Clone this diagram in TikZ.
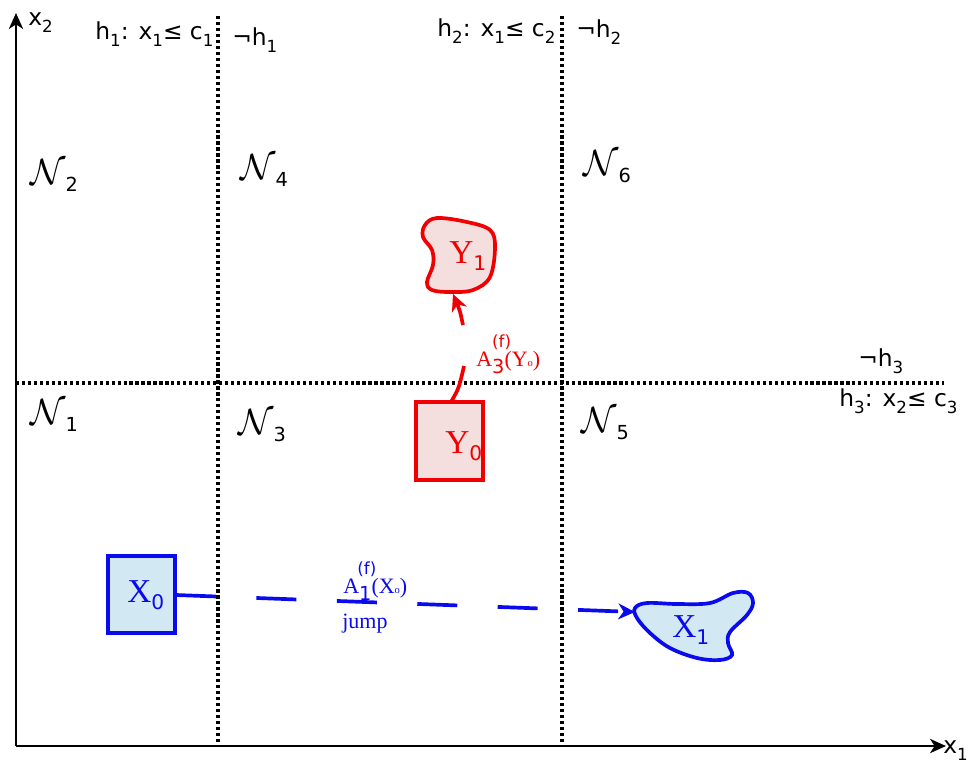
\documentclass[tikz,border=0pt]{standalone}
\usepackage{fontspec}
\setmainfont{Liberation Serif}
\setsansfont{DejaVu Sans}
\newfontfamily\dvs{DejaVu Sans}
\usetikzlibrary{arrows.meta}
\definecolor{redc}{HTML}{F00000}
\definecolor{redf}{HTML}{F5DEDE}
\definecolor{bluec}{HTML}{0A0AEE}
\definecolor{bluef}{HTML}{D2E8F2}
% subscript for the sans labels
\newcommand\lsub[1]{\raisebox{-4.5pt}{\dvs\fontsize{9.5}{12}\selectfont #1}}
% subscript for the region names
\newcommand\nsub[1]{\raisebox{-4.5pt}{\dvs\fontsize{11}{12}\selectfont #1}}
% subscript for the sets
\newcommand\ssub[1]{\raisebox{-4pt}{\dvs\fontsize{11.5}{13}\selectfont #1}}
\tikzset{
  axis/.style={line width=1.6pt,-{Stealth[length=9pt,width=8pt,inset=2.5pt]}},
  split/.style={line width=2pt,dash pattern=on 1.8pt off 1.6pt},
  lbl/.style={font=\dvs\fontsize{13.3}{16}\selectfont,inner sep=0pt,anchor=base west},
  nlbl/.style={font=\fontsize{20}{22}\selectfont,inner sep=0pt,anchor=base west},
  redbox/.style={draw=redc,fill=redf,line width=2.1pt},
  bluebox/.style={draw=bluec,fill=bluef,line width=2.1pt},
  redtxt/.style={text=redc,font=\fontsize{19}{22}\selectfont,inner sep=0pt,anchor=base west},
  bluetxt/.style={text=bluec,font=\fontsize{19}{22}\selectfont,inner sep=0pt,anchor=base west},
  tip/.style={-{Stealth[length=9.5pt,width=9pt,inset=3pt]}},
  alabel/.style={font=\fontsize{12.5}{14}\selectfont,inner sep=0pt,anchor=base west},
}
\begin{document}
\begin{tikzpicture}[x=0.02cm,y=-0.02cm]
\useasboundingbox (0,0) rectangle (971,768);
% axes
\coordinate (o) at (16,746);
\coordinate (xe) at (946,746);
\coordinate (ye) at (16,13);
\draw[axis] (o) -- (xe);
\draw[axis] (o) -- (ye);
\node[lbl] (lx1) at (943,753) {x\lsub{1}};
\node[lbl] (lx2) at (28,25) {x\lsub{2}};
% split lines
\coordinate (v1t) at (218,16); \coordinate (v1b) at (218,746);
\coordinate (v2t) at (562,16); \coordinate (v2b) at (562,746);
\coordinate (hl) at (16,383); \coordinate (hr) at (944,383);
\draw[split] (v1t) -- (v1b);
\draw[split] (v2t) -- (v2b);
\draw[split] (hl) -- (hr);
% split labels
\node[lbl] (h1) at (95,39) {h\lsub{1}: x\lsub{1}≤ c\lsub{1}};
\node[lbl] (nh1) at (232,45) {¬h\lsub{1}};
\node[lbl] (h2) at (437,36) {h\lsub{2}: x\lsub{1}≤ c\lsub{2}};
\node[lbl] (nh2) at (576,37) {¬h\lsub{2}};
\node[lbl] (nh3) at (858,366) {¬h\lsub{3}};
\node[lbl] (h3) at (839,406) {h\lsub{3}: x\lsub{2}≤ c\lsub{3}};
% regions
\node[nlbl] (N2) at (30,184) {$\mathcal{N}$\nsub{2}};
\node[nlbl] (N4) at (240,179) {$\mathcal{N}$\nsub{4}};
\node[nlbl] (N6) at (583,175) {$\mathcal{N}$\nsub{6}};
\node[nlbl] (N1) at (30,424) {$\mathcal{N}$\nsub{1}};
\node[nlbl] (N3) at (238,434) {$\mathcal{N}$\nsub{3}};
\node[nlbl] (N5) at (581,432) {$\mathcal{N}$\nsub{5}};
% Y0 box
\node[redbox,inner sep=0pt,minimum width=1.34cm,minimum height=1.56cm] (Y0) at (449.5,441) {};
\node[redtxt] (Y0t) at (445,453) {Y\ssub{0}};
% Y1 blob
\draw[redbox] plot[smooth cycle,tension=0.6] coordinates {(425,225) (437,218) (467,222) (490,230) (495,247) (490,277) (473,290) (450,292) (432,290) (427,282) (433,265) (432,250) (423,237)};
\node[redtxt] (Y1t) at (449,263) {Y\ssub{1}};
% red arrow
\coordinate (ra) at (464,366);
\coordinate (rb) at (463,325);
\coordinate (rtip) at (453,294);
\coordinate (rs) at (451,402);
\draw[redc,line width=2.1pt] (rs) .. controls (459,388) .. (ra);
\draw[redc,line width=2.1pt,tip] (rb) .. controls (460,311) .. (rtip);
\node[text=redc,alabel] (A3) at (476,366) {A\makebox[0pt][l]{\raisebox{10.5pt}{\dvs\fontsize{9.5}{10}\selectfont (f)}}\raisebox{-4pt}{\dvs\fontsize{11}{12}\selectfont 3}(Y\raisebox{-0.5pt}{\fontsize{6}{7}\selectfont o})};
% X0 box
\node[bluebox,inner sep=0pt,minimum width=1.34cm,minimum height=1.54cm] (X0) at (141.5,594.5) {};
\node[bluetxt] (X0t) at (127,602) {X\ssub{0}};
% X1 blob
\draw[bluebox] plot[smooth cycle,tension=0.6] coordinates {(635,608) (647,603) (677,604) (710,603) (733,593) (748,593) (753,603) (747,615) (730,632) (728,643) (732,655) (720,660) (697,658) (670,648) (650,633) (637,618)};
\node[bluetxt] (X1t) at (672,637) {X\ssub{1}};
\coordinate (bs) at (176,595);
\coordinate (btip) at (635,612);
\draw[bluec,line width=2.1pt,dash pattern=on 0.8cm off 0.81cm,tip] (bs) -- (btip);
\node[text=bluec,alabel] (A1) at (343,593) {A\makebox[0pt][l]{\hspace{-1pt}\raisebox{10.5pt}{\dvs\fontsize{9.5}{10}\selectfont (f)}}\raisebox{-4pt}{\dvs\fontsize{11}{12}\selectfont 1}(X\raisebox{-0.5pt}{\fontsize{6}{7}\selectfont o})};
\node[text=bluec,alabel] (jump) at (342,628) {jump};
\end{tikzpicture}
\end{document}
